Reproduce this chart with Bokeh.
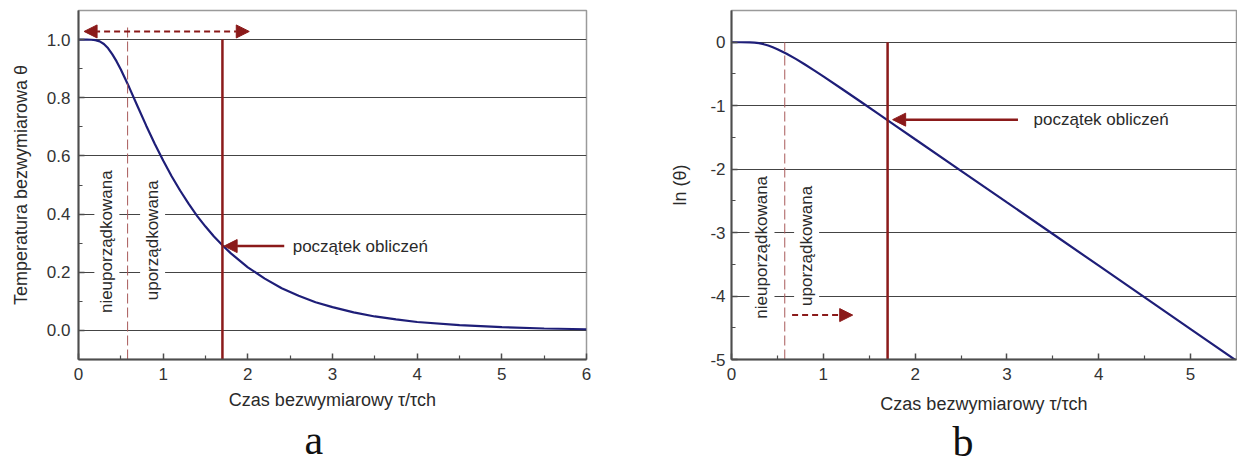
import math
from bokeh.plotting import figure
from bokeh.layouts import row
from bokeh.models import FixedTicker, NumeralTickFormatter, Label, Arrow, NormalHead, Title
from bokeh.embed import file_html
from bokeh.resources import INLINE

# ---- data ----
tau = [0, 0.1, 0.15, 0.2, 0.25, 0.3, 0.35, 0.4, 0.45, 0.5, 0.6, 0.7, 0.8, 0.9, 1.0,
       1.1, 1.2, 1.3, 1.4, 1.5, 1.6, 1.7, 1.8, 2.0, 2.2, 2.4, 2.6, 2.8, 3.0, 3.25,
       3.5, 3.75, 4.0, 4.5, 5.0, 5.5, 6.0]
theta = [1.000, 1.000, 0.9995, 0.998, 0.994, 0.985, 0.970, 0.949, 0.925, 0.897, 0.835,
         0.769, 0.704, 0.642, 0.584, 0.530, 0.481, 0.436, 0.394, 0.357, 0.323, 0.293,
         0.265, 0.217, 0.178, 0.145, 0.119, 0.097, 0.080, 0.062, 0.048, 0.038, 0.029,
         0.018, 0.011, 0.0066, 0.004]

tau_b = [0, 0.1, 0.2, 0.25, 0.3, 0.35, 0.4, 0.45, 0.5, 0.6, 0.7, 0.8, 0.9, 1.0, 1.2,
         1.4, 1.6, 1.8, 2.0, 2.5, 3.0, 3.5, 4.0, 4.5, 5.0, 5.5]
ln_theta = [0.000, 0.000, -0.002, -0.006, -0.015, -0.031, -0.052, -0.079, -0.109,
            -0.181, -0.263, -0.351, -0.443, -0.538, -0.733, -0.930, -1.130, -1.329,
            -1.529, -2.027, -2.525, -3.022, -3.522, -4.020, -4.520, -5.020]

x_ticks_a = [0, 1, 2, 3, 4, 5, 6]
x_minor_a = [0.5, 1.5, 2.5, 3.5, 4.5, 5.5]
y_ticks_a = [0.0, 0.2, 0.4, 0.6, 0.8, 1.0]
y_minor_a = [0.1, 0.3, 0.5, 0.7, 0.9]
x_ticks_b = [0, 1, 2, 3, 4, 5]
x_minor_b = [0.5, 1.5, 2.5, 3.5, 4.5]
y_ticks_b = [-5, -4, -3, -2, -1, 0]
y_minor_b = [-4.5, -3.5, -2.5, -1.5, -0.5]

regime_boundary = 0.58   # nieuporządkowana / uporządkowana
calc_start = 1.7         # początek obliczeń
theta_at_start = 0.29
ln_at_start = -1.22

label_disordered = "nieuporządkowana"
label_ordered = "uporządkowana"
label_start = "początek obliczeń"
xlabel = "Czas bezwymiarowy τ/τch"
ylabel_a = "Temperatura bezwymiarowa θ"
ylabel_b = "ln (θ)"

RED = "#8b1a1a"
DASHRED = "#a85a5a"
NAVY = "#1e1e78"
SANS = "Liberation Sans"
SERIF = "Liberation Serif"


def base_fig(width, xr, yr, mbl, mbr):
    p = figure(width=width, height=472, x_range=xr, y_range=yr,
               output_backend="svg", toolbar_location=None,
               min_border_left=mbl, min_border_right=mbr,
               min_border_top=10, min_border_bottom=113)
    p.background_fill_color = "white"
    p.border_fill_color = "white"
    p.outline_line_color = "#9a9a9a"
    p.outline_line_width = 1.5
    p.xgrid.grid_line_color = None
    p.ygrid.grid_line_color = "#444444"
    p.ygrid.grid_line_width = 1
    p.axis.axis_line_color = "#4d4d4d"
    p.axis.axis_line_width = 2
    p.axis.major_tick_in = 6
    p.axis.major_tick_out = 0
    p.axis.minor_tick_in = 4
    p.axis.minor_tick_out = 0
    p.axis.major_tick_line_color = "#4d4d4d"
    p.axis.minor_tick_line_color = "#4d4d4d"
    p.axis.major_tick_line_width = 1.5
    p.axis.minor_tick_line_width = 1.2
    p.axis.major_label_text_font = SANS
    p.axis.major_label_text_font_size = "17px"
    p.axis.major_label_text_color = "#333333"
    p.axis.axis_label_text_font = SANS
    p.axis.axis_label_text_font_style = "normal"
    p.axis.axis_label_text_color = "#2a2a2a"
    p.axis.axis_label_text_font_size = "18px"
    p.xaxis.major_label_standoff = 8
    p.yaxis.major_label_standoff = 8
    return p


def txt(p, x, y, text, size="17px", angle=0.0, align="left", baseline="middle", bg=None):
    kw = dict(x=x, y=y, text=text, text_font=SANS, text_font_size=size,
              text_color="#2a2a2a", angle=angle, text_align=align,
              text_baseline=baseline)
    if bg:
        kw.update(background_fill_color=bg, padding=3)
    p.add_layout(Label(**kw))


def arrow(p, xs, ys, xe, ye, dash="solid", width=2.5, both=False):
    head = dict(size=13, fill_color=RED, line_color=RED)
    a = Arrow(x_start=xs, y_start=ys, x_end=xe, y_end=ye,
              end=NormalHead(**head),
              start=NormalHead(**head) if both else None,
              line_color=RED, line_width=width, line_dash=dash)
    p.add_layout(a)


def letter(p, text, offset, standoff):
    p.add_layout(Title(text=text, align="left", offset=offset, standoff=standoff,
                       text_font=SERIF, text_font_size="42px",
                       text_font_style="normal", text_color="#111111"), "below")


# ---------------- panel a ----------------
p1 = base_fig(651, (0, 6), (-0.1, 1.1), 78, 65)
p1.xaxis.ticker = FixedTicker(ticks=x_ticks_a, minor_ticks=x_minor_a)
p1.yaxis.ticker = FixedTicker(ticks=y_ticks_a, minor_ticks=y_minor_a)
p1.yaxis.formatter = NumeralTickFormatter(format="0.0")
p1.xaxis.axis_label = xlabel
p1.yaxis.axis_label = ylabel_a
p1.xaxis.axis_label_standoff = 7
p1.yaxis.axis_label_standoff = 13

txt(p1, 0.335, 0.305, label_disordered, angle=math.pi / 2, align="center", bg="white")
txt(p1, 0.875, 0.31, label_ordered, angle=math.pi / 2, align="center", bg="white")

p1.line(tau, theta, line_color=NAVY, line_width=2.2)
p1.segment(x0=[regime_boundary], y0=[-0.1], x1=[regime_boundary], y1=[1.05],
           line_color=DASHRED, line_width=1, line_dash="10 4")
p1.segment(x0=[calc_start], y0=[-0.1], x1=[calc_start], y1=[1.0],
           line_color=RED, line_width=2.5)

arrow(p1, 0.066, 1.028, 2.017, 1.028, dash="6 4", width=2, both=True)
arrow(p1, 2.43, theta_at_start, 1.72, theta_at_start)
txt(p1, 2.53, theta_at_start, label_start)
letter(p1, "a", 226, 4)

# ---------------- panel b ----------------
p2 = base_fig(586, (0, 5.5), (-5, 0.5), 80, 1)
p2.xaxis.ticker = FixedTicker(ticks=x_ticks_b, minor_ticks=x_minor_b)
p2.yaxis.ticker = FixedTicker(ticks=y_ticks_b, minor_ticks=y_minor_b)
p2.yaxis.formatter = NumeralTickFormatter(format="0")
p2.yaxis.major_label_standoff = 6
p2.xaxis.axis_label = xlabel
p2.yaxis.axis_label = ylabel_b
p2.xaxis.axis_label_standoff = 11
p2.yaxis.axis_label_standoff = 17

txt(p2, 0.332, -3.232, label_disordered, angle=math.pi / 2, align="center", bg="white")
txt(p2, 0.818, -3.21, label_ordered, angle=math.pi / 2, align="center", bg="white")

p2.line(tau_b, ln_theta, line_color=NAVY, line_width=2.2)
p2.segment(x0=[regime_boundary], y0=[-5], x1=[regime_boundary], y1=[0],
           line_color=DASHRED, line_width=1, line_dash="10 4")
p2.segment(x0=[calc_start], y0=[-5], x1=[calc_start], y1=[0],
           line_color=RED, line_width=2.5)

arrow(p2, 0.66, -4.30, 1.32, -4.30, dash="6 4", width=2)
arrow(p2, 3.12, ln_at_start, 1.755, ln_at_start)
txt(p2, 3.29, ln_at_start, label_start)
letter(p2, "b", 221, 1)

layout = row(p1, p2)
open("out.html", "w").write(file_html(layout, INLINE))
